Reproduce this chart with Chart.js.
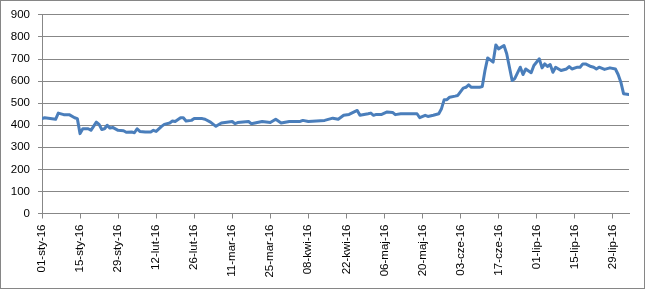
<!DOCTYPE html>
<html>
<head>
<meta charset="utf-8">
<script src="https://cdn.jsdelivr.net/npm/chart.js@4/dist/chart.umd.min.js"></script>
<style>
html,body{margin:0;padding:0;background:#fff;}
canvas{display:block;}
</style>
</head>
<body>
<canvas id="c" width="645" height="289"></canvas>
<script>
// Tick labels (every 14 days from 01-sty-16)
const tickLabels = ['01-sty-16','15-sty-16','29-sty-16','12-lut-16','26-lut-16','11-mar-16','25-mar-16','08-kwi-16','22-kwi-16','06-maj-16','20-maj-16','03-cze-16','17-cze-16','01-lip-16','15-lip-16','29-lip-16'];
const tickStepDays = 14;
const lastDay = 216;

// Days since 01-sty-16
const days = [0,1,5,6,8,10,12,13,14,15,17,18,20,21,22,23,24,25,26,28,30,31,33,34,35,36,38,40,41,42,44,45,47,48,49,51,52,53,55,56,59,60,62,64,66,70,71,72,76,77,81,84,86,88,91,95,96,98,104,107,109,111,113,116,117,120,121,122,123,125,127,129,130,132,138,139,141,142,144,146,147,148,149,150,152,153,155,156,157,158,161,162,163,164,166,167,168,170,171,172,173,174,176,177,178,180,181,183,184,185,186,187,188,189,191,193,194,195,197,198,199,200,202,203,204,205,207,209,211,212,213,214,216];
const values = [430,434,427,455,448,448,434,430,362,384,384,377,414,404,381,384,400,387,390,377,375,368,369,366,384,372,369,369,377,372,395,404,410,419,417,434,434,419,422,430,430,427,414,395,410,417,407,412,417,407,417,412,427,410,417,417,422,417,422,432,427,445,449,467,445,452,455,445,449,449,460,458,448,452,452,434,445,440,445,452,475,516,516,527,532,535,568,572,583,572,572,575,648,705,686,764,746,761,724,663,603,612,663,630,655,638,671,701,660,678,666,675,640,663,648,655,666,655,663,663,678,678,666,663,655,663,653,660,655,630,595,543,539];

const points = days.map((d, i) => ({x: d, y: values[i]}));

const gridColor = '#878787';
const frame = {
  id: 'frame',
  afterDraw(chart) {
    const ctx = chart.ctx;
    ctx.save();
    ctx.strokeStyle = '#868686';
    ctx.lineWidth = 1;
    ctx.strokeRect(0.5, 0.5, chart.width - 1, chart.height - 1);
    ctx.restore();
  }
};

new Chart(document.getElementById('c'), {
  type: 'line',
  data: {
    datasets: [{
      data: points,
      borderColor: '#4a7ebb',
      borderWidth: 3,
      pointRadius: 0,
      tension: 0,
      borderCapStyle: 'round',
      borderJoinStyle: 'round',
      fill: false
    }]
  },
  options: {
    responsive: false,
    animation: false,
    events: [],
    layout: {padding: {left: 0, right: 16, top: 14, bottom: 0}},
    plugins: {legend: {display: false}, tooltip: {enabled: false}},
    scales: {
      x: {
        type: 'linear',
        min: 0,
        max: lastDay,
        afterBuildTicks: (s) => { s.ticks = tickLabels.map((_, i) => ({value: i * tickStepDays})); },
        afterFit: (s) => { s.height = 75.5; },
        grid: {drawOnChartArea: false, drawTicks: true, tickLength: 5, color: gridColor},
        border: {color: gridColor},
        ticks: {
          autoSkip: false,
          minRotation: 90,
          maxRotation: 90,
          padding: 6,
          color: '#000',
          font: {family: '"Liberation Sans", Arial, sans-serif', size: 11.5},
          callback: (v) => tickLabels[Math.round(v / tickStepDays)]
        }
      },
      y: {
        min: 0,
        max: 900,
        afterFit: (s) => { s.width = 42; },
        ticks: {
          stepSize: 100,
          padding: 8,
          color: '#000',
          font: {family: '"Liberation Sans", Arial, sans-serif', size: 11.5}
        },
        grid: {color: gridColor, tickLength: 4},
        border: {color: gridColor}
      }
    }
  },
  plugins: [frame]
});
</script>
</body>
</html>
